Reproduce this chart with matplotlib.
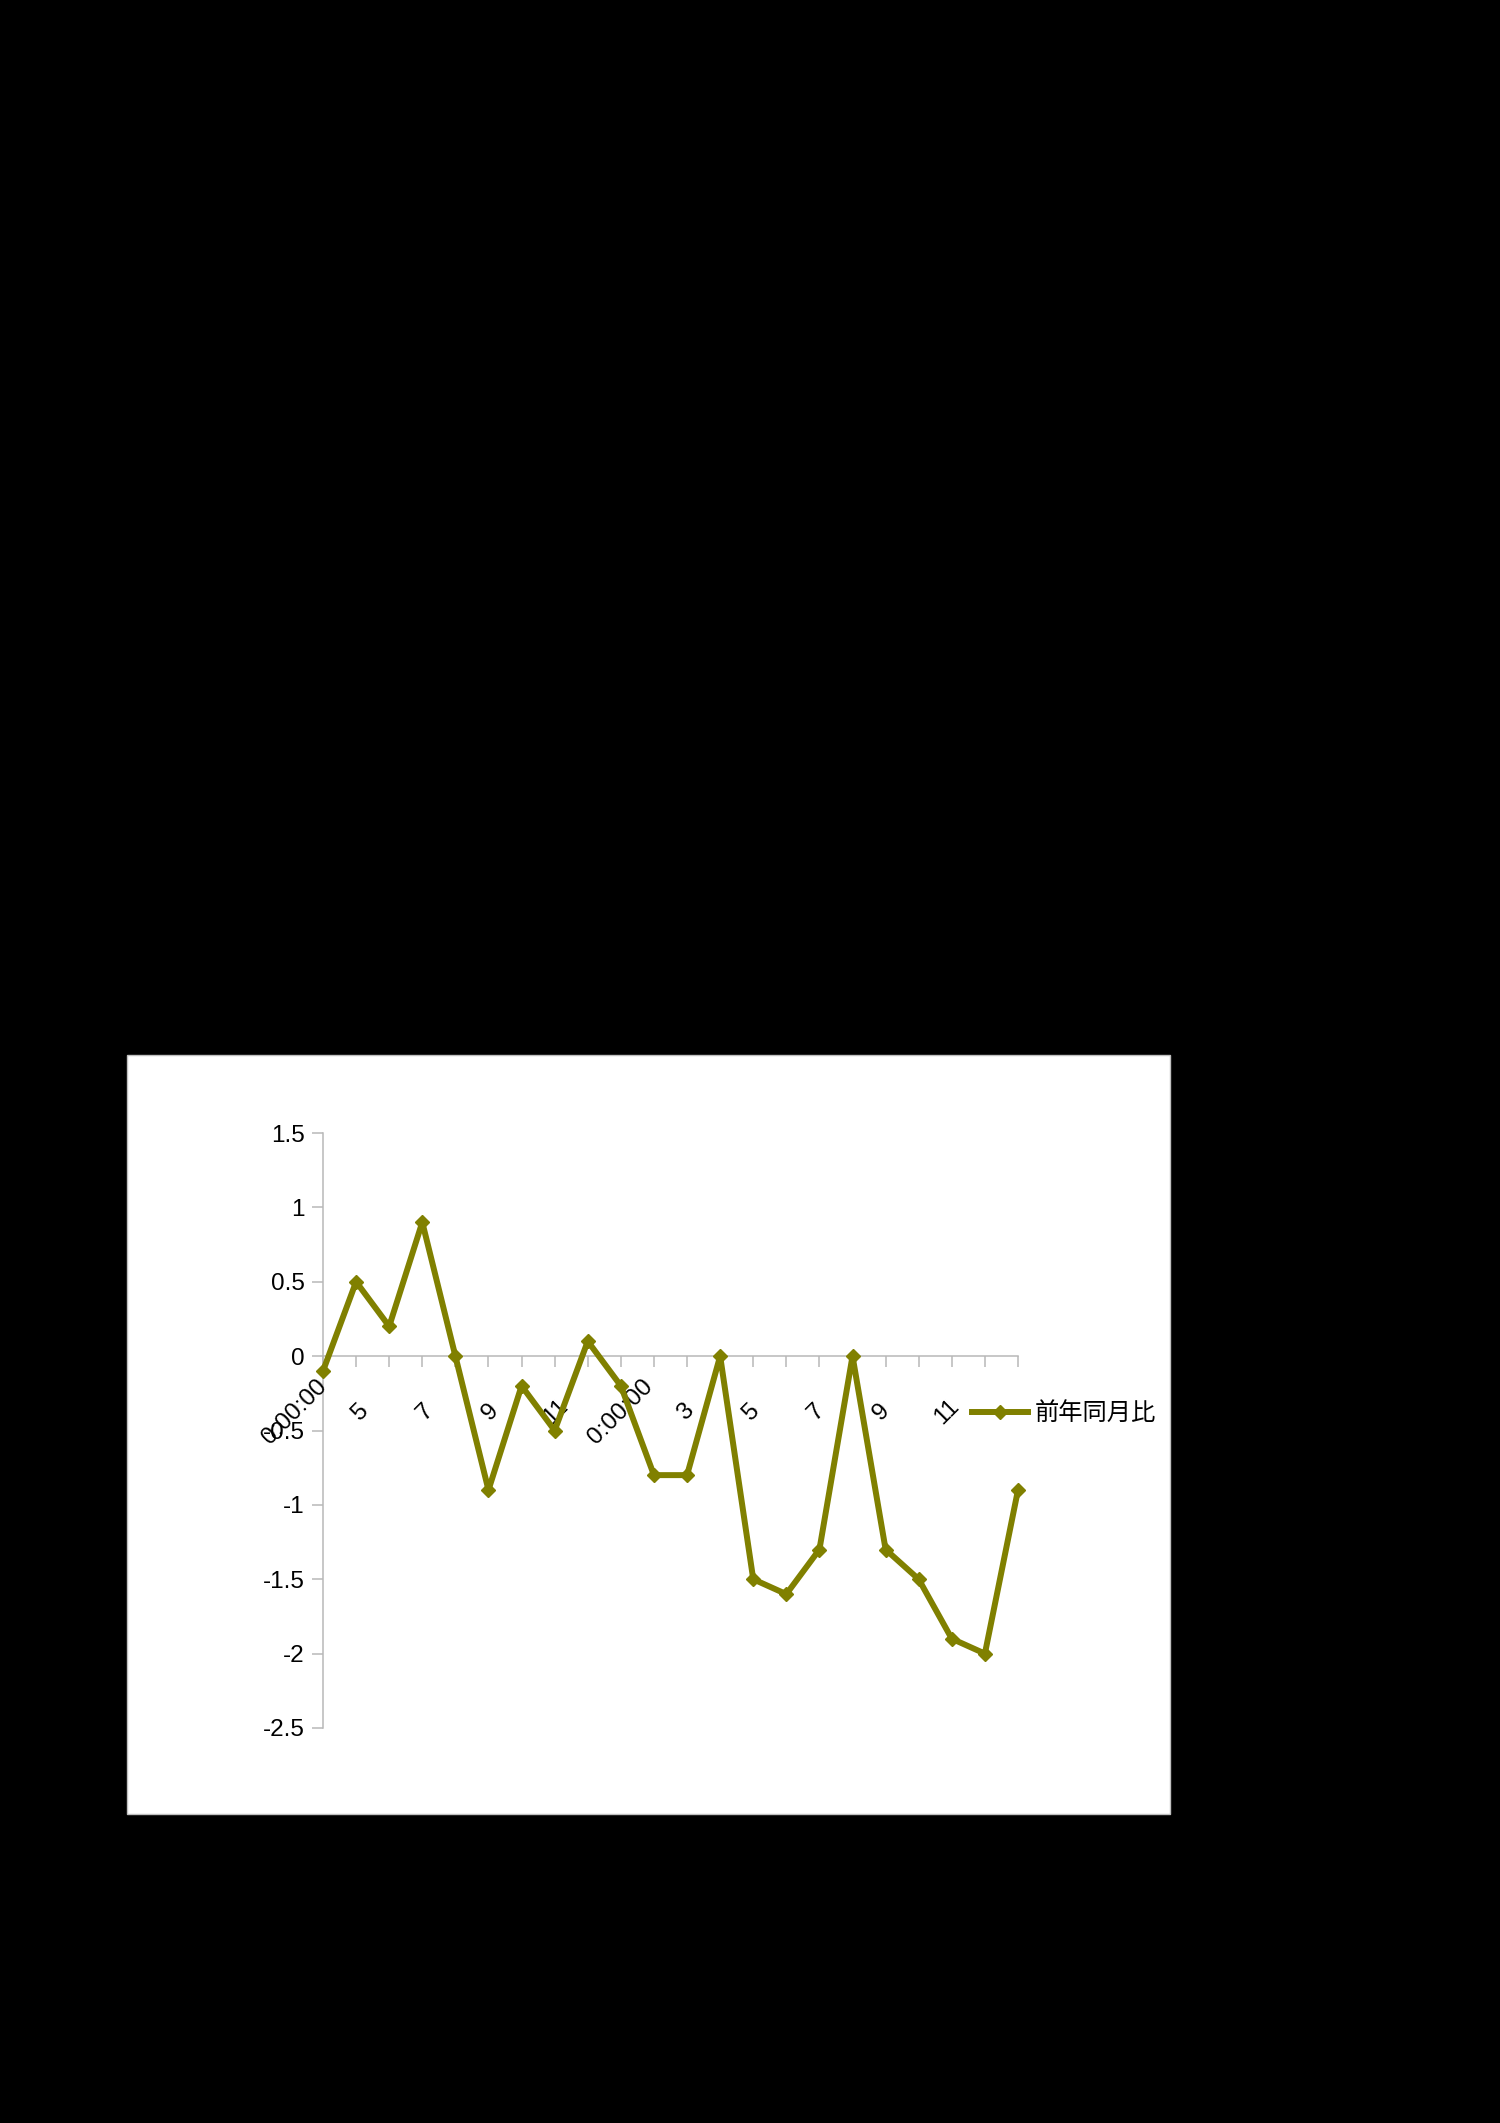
import numpy as np
import matplotlib.pyplot as plt
import matplotlib.transforms as mtransforms
from matplotlib.patches import Rectangle

# --- data ---
values = [-0.1, 0.5, 0.2, 0.9, 0.0, -0.9, -0.2, -0.5, 0.1, -0.2, -0.8,
          -0.8, 0.0, -1.5, -1.6, -1.3, 0.0, -1.3, -1.5, -1.9, -2.0, -0.9]
month_labels = ['0:00:00', '5', '7', '9', '11', '0:00:00', '3', '5', '7', '9', '11']
y_ticks = [1.5, 1, 0.5, 0, -0.5, -1, -1.5, -2, -2.5]
series_name = '前年同月比'

W, H = 1500, 2123
fig = plt.figure(figsize=(W / 100, H / 100), dpi=100, facecolor='black')

# white chart area
fig.patches.append(Rectangle((127 / W, 1 - 1814 / H), (1170 - 127) / W, (1814 - 1055) / H,
                             transform=fig.transFigure, facecolor='white',
                             edgecolor='#c0c0c0', linewidth=1, zorder=-5))

fonts = ['Liberation Sans', 'Noto Sans CJK JP', 'DejaVu Sans']
plt.rcParams['font.family'] = fonts

ax = fig.add_axes([323 / W, 1 - 1728 / H, (1018 - 323) / W, (1728 - 1133) / H])
ax.patch.set_alpha(0)

x = np.arange(len(values))
ax.plot(x, values, color='#808000', linewidth=4.3, marker='D', markersize=6.8,
        markeredgewidth=1, clip_on=False, zorder=5, label=series_name)

ax.set_xlim(0, len(values) - 1)
ax.set_ylim(-2.5, 1.5)
ax.set_yticks(y_ticks)
ax.set_yticklabels([f'{v:g}' for v in y_ticks], fontsize=17.5)

ax.set_xticks(x)
ax.set_xticklabels([])

for s in ['top', 'right']:
    ax.spines[s].set_visible(False)
ax.spines['bottom'].set_position(('data', 0))
for s in ['left', 'bottom']:
    ax.spines[s].set_color('#b8b8b8')
    ax.spines[s].set_linewidth(1.1)
ax.tick_params(axis='both', colors='#b8b8b8', length=8, width=1.1, direction='out')
ax.tick_params(axis='y', labelcolor='black', pad=5)

# rotated category labels
label_tf = mtransforms.offset_copy(ax.transData, fig=fig, x=0, y=-56, units='dots')
for pos, lab in zip(np.linspace(-0.85, 18.85, len(month_labels)), month_labels):
    ax.text(pos, 0, lab, transform=label_tf, rotation=45, ha='center', va='center',
            fontsize=17.5, color='black', clip_on=False)

ax.legend(loc='center left', bbox_to_anchor=(972 / W, 1 - 1414 / H),
          bbox_transform=fig.transFigure, frameon=False, fontsize=17.5,
          borderpad=0, borderaxespad=0, handlelength=2.3, handletextpad=0.3)

fig.savefig('out.png', dpi=100, facecolor='black')
